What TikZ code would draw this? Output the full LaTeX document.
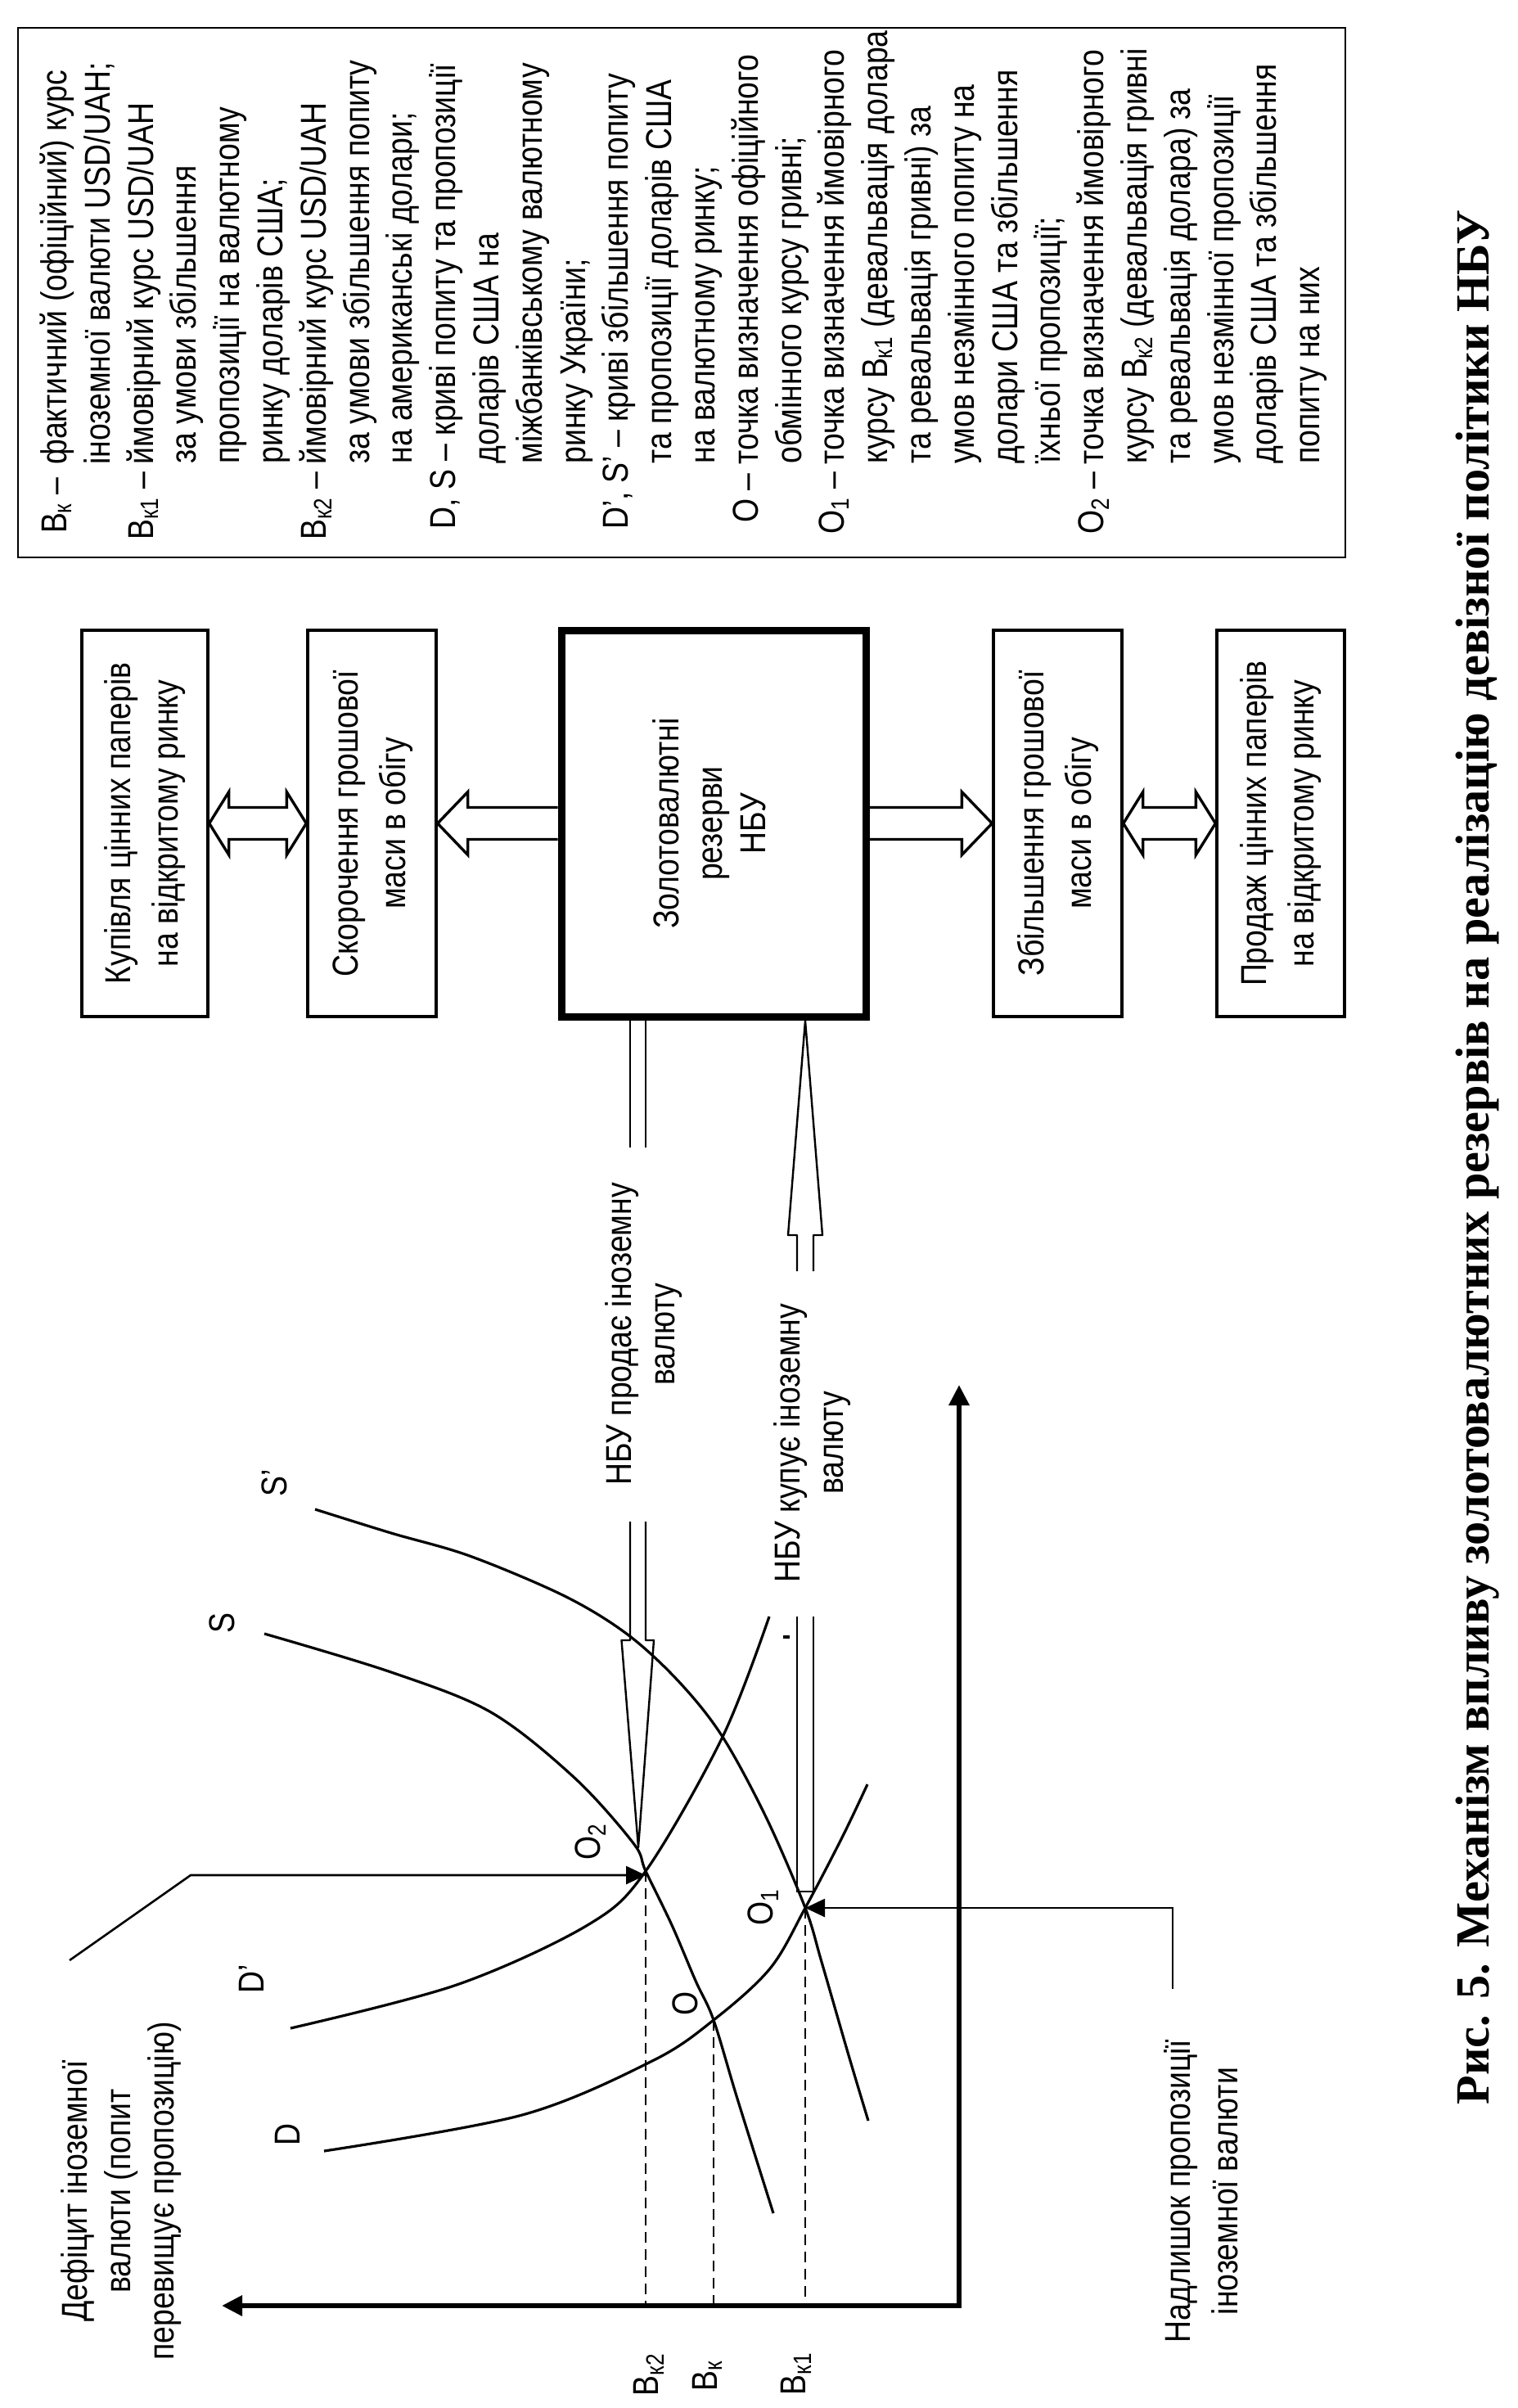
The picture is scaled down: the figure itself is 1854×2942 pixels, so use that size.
\documentclass[tikz,border=0pt]{standalone}
\usepackage{graphicx}
\usepackage{fontspec}
\setmainfont{Liberation Sans}[FakeStretch=0.85]
\newfontfamily\titlefont{Liberation Serif}
\usetikzlibrary{arrows.meta,calc}
\newcommand\lsub[1]{\textsubscript{#1}}
\tikzset{
  txt/.style={font=\fontsize{22}{26.4}\selectfont, inner sep=0pt},
  lg/.style={txt, rotate=90, anchor=base west},
  lgk/.style={txt, rotate=90, anchor=base east},
  lab/.style={txt, rotate=90, align=center},
  box/.style={draw, line width=1.7pt, inner sep=0pt, font=\fontsize{22}{29}\selectfont},
  blk/.style={draw, line width=1.7pt, line join=miter},
  curve/.style={line width=1.6pt},
  ptr/.style={line width=1.3pt, -{Triangle[length=12pt,width=11pt]}},
  dsh/.style={line width=1.2pt, dash pattern=on 6.5pt off 4pt},
  dl/.style={line width=1.2pt},
}
\newcommand\lgl[4]{\node[lg] (#1) at (#2,#3) {#4};}
\newcommand\lgk[4]{\node[lgk] (#1) at (#2,#3) {#4};}
\begin{document}
\begin{tikzpicture}[x=0.5pt, y=-0.5pt]
\useasboundingbox[fill=white] (0,0) rectangle (1854,2942);

% legend
\node[draw, line width=1pt, minimum width=811pt, minimum height=323.5pt, anchor=north west, inner sep=0pt] (legend) at (21,33) {};
\lgk{k1}{81}{583}{В\lsub{к} –}
\lgl{g1}{81}{568}{фактичний (офіційний) курс}
\lgl{g2}{134}{568}{іноземної валюти USD/UAH;}
\lgk{k3}{187}{576}{В\lsub{к1} –}
\lgl{g3}{187}{568}{ймовірний курс USD/UAH}
\lgl{g4}{239}{567}{за умови збільшення}
\lgl{g5}{292}{567}{пропозиції на валютному}
\lgl{g6}{345}{567}{ринку доларів США;}
\lgk{k7}{398}{576}{В\lsub{к2} –}
\lgl{g7}{398}{568}{ймовірний курс USD/UAH}
\lgl{g8}{451}{567}{за умови збільшення попиту}
\lgl{g9}{503}{567}{на американські долари;}
\lgl{g10}{556}{647}{D, S – криві попиту та пропозиції}
\lgl{g11}{609}{567}{доларів США на}
\lgl{g12}{662}{567}{міжбанківському валютному}
\lgl{g13}{715}{567}{ринку України;}
\lgl{g14}{767}{647}{D’, S’ – криві збільшення попиту}
\lgl{g15}{820}{567}{та пропозиції доларів США}
\lgl{g16}{873}{567}{на валютному ринку;}
\lgk{k17}{926}{578}{O –}
\lgl{g17}{926}{568}{точка визначення офіційного}
\lgl{g18}{979}{567}{обмінного курсу гривні;}
\lgk{k19}{1031}{576}{O\lsub{1} –}
\lgl{g19}{1031}{568}{точка визначення ймовірного}
\lgl{g20}{1084}{567}{курсу В\lsub{к1} (девальвація долара}
\lgl{g21}{1137}{567}{та ревальвація гривні) за}
\lgl{g22}{1190}{567}{умов незмінного попиту на}
\lgl{g23}{1243}{567}{долари США та збільшення}
\lgl{g24}{1295}{567}{їхньої пропозиції;}
\lgk{k25}{1348}{576}{O\lsub{2} –}
\lgl{g25}{1348}{568}{точка визначення ймовірного}
\lgl{g26}{1401}{567}{курсу В\lsub{к2} (девальвація гривні}
\lgl{g27}{1454}{567}{та ревальвація долара) за}
\lgl{g28}{1507}{567}{умов незмінної пропозиції}
\lgl{g29}{1559}{567}{доларів США та збільшення}
\lgl{g30}{1612}{567}{попиту на них}

% boxes
\node[box, minimum width=77pt, minimum height=236pt] (A) at (177,1006)
  {\rotatebox{90}{\begin{tabular}{@{}c@{}}Купівля цінних паперів\\на відкритому ринку\end{tabular}}};
\node[box, minimum width=78.5pt, minimum height=236pt] (B) at (454.5,1006)
  {\rotatebox{90}{\begin{tabular}{@{}c@{}}Скорочення грошової\\маси в обігу\end{tabular}}};
\node[box, line width=4.5pt, minimum width=186pt, minimum height=236pt, font=\fontsize{22}{26.4}\selectfont] (Z) at (872,1006)
  {\rotatebox{90}{\begin{tabular}{@{}c@{}}Золотовалютні\\резерви\\НБУ\end{tabular}}};
\node[box, minimum width=78.5pt, minimum height=236pt] (D) at (1292.5,1006)
  {\rotatebox{90}{\begin{tabular}{@{}c@{}}Збільшення грошової\\маси в обігу\end{tabular}}};
\node[box, minimum width=78pt, minimum height=236pt] (E) at (1565,1006)
  {\rotatebox{90}{\begin{tabular}{@{}c@{}}Продаж цінних паперів\\на відкритому ринку\end{tabular}}};

% block arrows
\draw[blk] (A.east) -- ++(24,-38.5) -- ++(0,19) -- ($(B.west)+(-24,-19.5)$) -- ++(0,-19) -- (B.west)
  -- ++(-24,38.5) -- ++(0,-19) -- ($(A.east)+(24,19.5)$) -- ++(0,19) -- cycle;
\draw[blk] ($(Z.west)+(0,-19.5)$) -- ($(B.east)+(37,-19.5)$) -- ++(0,-19) -- (B.east)
  -- ++(37,38.5) -- ++(0,-19) -- ($(Z.west)+(0,19.5)$);
\draw[blk] ($(Z.east)+(0,-19.5)$) -- ($(D.west)+(-37,-19.5)$) -- ++(0,-19) -- (D.west)
  -- ++(-37,38.5) -- ++(0,-19) -- ($(Z.east)+(0,19.5)$);
\draw[blk] (D.east) -- ++(24,-38.5) -- ++(0,19) -- ($(E.west)+(-24,-19.5)$) -- ++(0,-19) -- (E.west)
  -- ++(-24,38.5) -- ++(0,-19) -- ($(D.east)+(24,19.5)$) -- ++(0,19) -- cycle;

% key points of the graph
\coordinate (C) at (1172,2817);
\coordinate (Ytip) at (1172,1692);
\coordinate (Xtip) at (271,2817);
\coordinate (O2) at (789,2286);
\coordinate (O) at (872,2468);
\coordinate (O1) at (984,2331);

% axes
\draw[line width=3pt, {Triangle[length=12.5pt,width=12pt]}-{Triangle[length=12.5pt,width=12pt]}, line join=miter] (Ytip) -- (C) -- (Xtip);

% curves
\draw[curve] plot[smooth, tension=0.55] coordinates {(323,1996) (478,2043) (600,2092) (702,2172) (774,2252) (789,2286) (821,2352) (850,2420) (872,2468) (901,2564) (945,2704)};
\draw[curve] plot[smooth, tension=0.55] coordinates {(355,2478) (558,2425) (718,2352) (789,2286) (883,2122) (940,1975)};
\draw[curve] plot[smooth, tension=0.55] coordinates {(396,2628) (638,2584) (797,2518) (872,2468) (941,2405) (984,2331) (1029,2245) (1060,2180)};
\draw[curve] plot[smooth, tension=0.55] coordinates {(385,1844) (478,1873) (574,1901) (690,1950) (767,1997) (830,2055) (883,2122) (937,2222) (984,2331) (1004,2397) (1037,2511) (1061,2591)};

% dashed levels
\draw[dsh] (O2) -- (O2 |- C);
\draw[dsh] (O) -- (O |- C);
\draw[dsh] (O1) -- (O1 |- C);

% pointers to O2 and O1
\coordinate (P1) at (85,2395);
\coordinate (P2) at (233,2291);
\draw[ptr] (P1) -- (P2) -- (O2 |- P2);
\coordinate (Q1) at (1433,2430);
\coordinate (Q2) at (1433,2331);
\draw[ptr] (Q1) -- (Q2) -- (O1);

% NBU sells: double line with hollow head
\coordinate (sellTop) at (779.5,1246);
\coordinate (sellTip) at (780,2257);
\draw[dl] ($(sellTop)+(-9.5,0)$) -- ++(0,156) ($(sellTop)+(9.5,0)$) -- ++(0,156);
\draw[dl, line join=round] ($(sellTop)+(-9.5,613)$) -- ($(sellTop)+(-9.5,758)$) -- ($(sellTop)+(-20,758)$) -- (sellTip)
  -- ($(sellTop)+(19.5,758)$) -- ($(sellTop)+(9.5,758)$) -- ($(sellTop)+(9.5,613)$);

% NBU buys: double line with hollow head
\coordinate (buyTip) at (984,1247);
\coordinate (buyBot) at (984,2311);
\draw[dl, line join=round] ($(buyBot)+(-10,-758)$) -- ($(buyBot)+(-10,-802)$) -- ($(buyBot)+(-21,-802)$) -- (buyTip)
  -- ($(buyBot)+(21,-802)$) -- ($(buyBot)+(10,-802)$) -- ($(buyBot)+(10,-758)$);
\draw[dl] ($(buyBot)+(-10,-336)$) -- ($(buyBot)+(-10,0)$) -- ($(buyBot)+(10,0)$) -- ($(buyBot)+(10,-336)$);
\coordinate (tick) at (957,2000);
\draw[line width=1.6pt] (tick) -- ++(8,0);

% graph texts
\node[lab] (sell) at (787,1630) {НБУ продає іноземну\\валюту};
\node[lab] (buy) at (993,1763) {НБУ купує іноземну\\валюту};
\node[lab] (def) at (148,2677) {Дефіцит іноземної\\валюти (попит\\перевищує пропозицію)};
\node[lab, font=\fontsize{22}{29}\selectfont] (exc) at (1468,2677) {Надлишок пропозиції\\іноземної валюти};

\node[lab] (lS) at (271,1983) {S};
\node[lab] (lSp) at (335,1812) {S’};
\node[lab] (lDp) at (307,2418) {D’};
\node[lab] (lD) at (351,2608) {D};
\node[lab] (lO2) at (722,2250) {O\lsub{2}};
\node[lab] (lO) at (837,2448) {O};
\node[lab] (lO1) at (933,2330) {O\lsub{1}};
\node[lab] (lB2) at (793,2901) {В\lsub{к2}};
\node[lab] (lB) at (864,2903) {В\lsub{к}};
\node[lab] (lB1) at (973,2900) {В\lsub{к1}};

% title
\node[rotate=90, inner sep=0pt] (title) at (1806,1414)
  {\resizebox{1157pt}{!}{\titlefont\bfseries Рис. 5. Механізм впливу золотовалютних резервів на реалізацію девізної політики НБУ}};
\end{tikzpicture}
\end{document}
